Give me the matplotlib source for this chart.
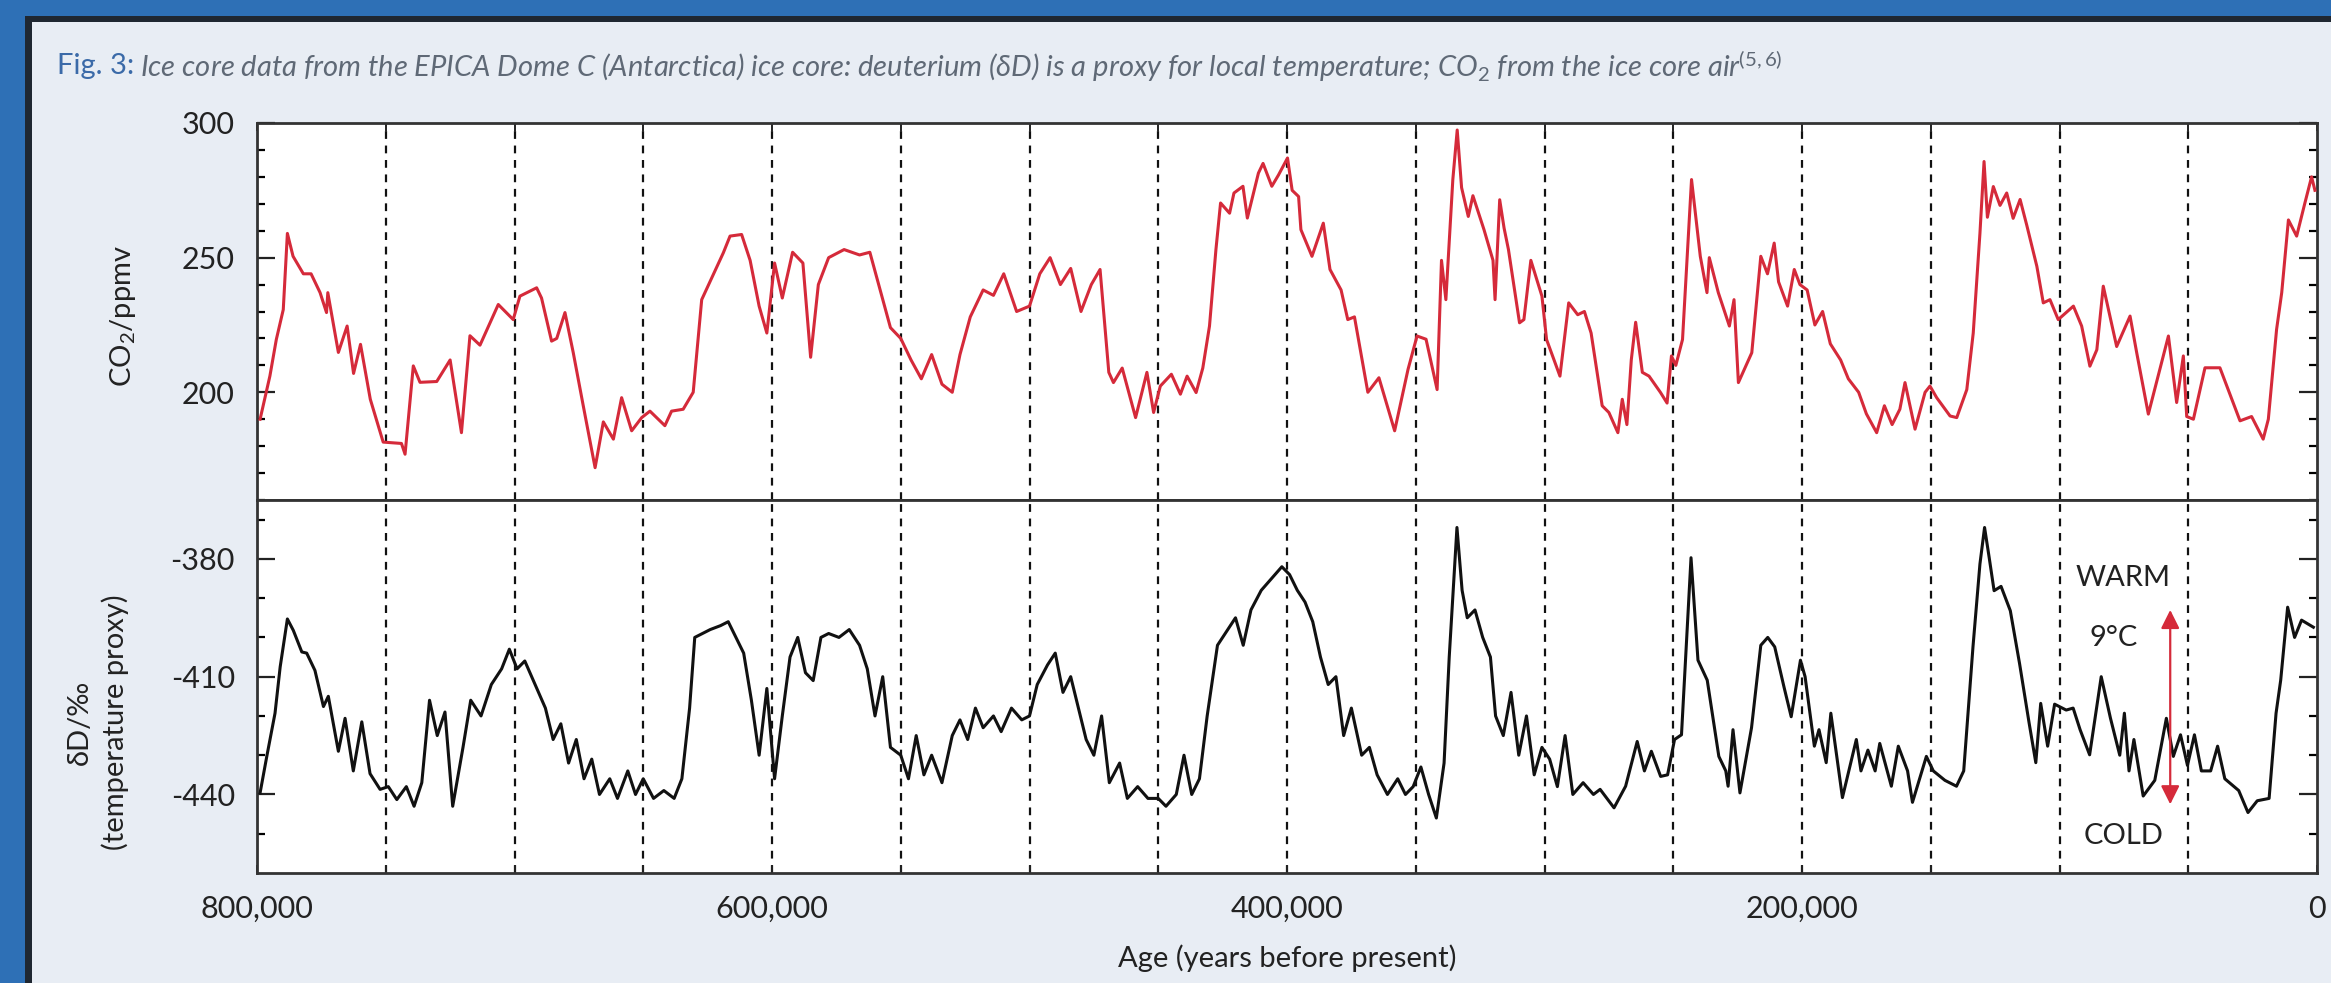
import matplotlib
matplotlib.use('Agg')
import numpy as np
import matplotlib.pyplot as plt
from matplotlib.patches import Rectangle

plt.rcParams['font.family'] = ['Lato', 'DejaVu Sans']
plt.rcParams['mathtext.fontset'] = 'custom'
plt.rcParams['mathtext.rm'] = 'Lato'
plt.rcParams['mathtext.it'] = 'Lato:italic'
plt.rcParams['axes.unicode_minus'] = False

# ---------------- data (ages in kyr before present) ----------------
co2_age = [798.8, 795, 792.5, 789.8, 788.2, 786, 782, 779, 775.5, 773, 772.5, 768.4, 765,
           762.5, 759.8, 756, 751, 743.9, 742.5, 739.3, 736.7, 730.2, 725, 720.6, 717.3,
           713.4, 706.3, 700.5, 697.9, 691.4, 689.5, 685.6, 683.6, 680.4, 677.2, 673.3,
           668.7, 665.5, 661.6, 658.4, 654.5, 650.6, 647.4, 641.6, 639, 634.5, 630.6,
           627.3, 618.9, 616.3, 611.8, 608.5, 605, 602, 599, 596, 592, 588, 585, 582,
           578, 572, 566, 562, 558, 554, 550, 546, 542, 538, 534, 530, 527, 523, 518,
           514, 510, 505, 500, 496, 492, 488, 484, 480, 476, 472.6, 469.2, 467.4, 464,
           458.8, 454.4, 451.8, 449.2, 444.9, 441.4, 438.8, 435.3, 432.7, 430.1, 427.6,
           425.8, 422.3, 420.6, 417.1, 415.4, 411.1, 409.3, 405.9, 403.3, 399.8, 398,
           395.5, 394.6, 390.3, 385.9, 383.3, 379, 376.4, 373.8, 368.6, 364.3, 358.2,
           353, 349.5, 346, 341.7, 340, 338.3, 335.6, 333.9, 332.2, 329.6, 327.8, 323.5,
           320, 319.2, 317.4, 315.7, 314, 309.7, 308, 305.3, 301, 299.2, 294, 290.6,
           287.1, 284.5, 281.9, 277.6, 275, 271.5, 269.8, 268, 266.3, 264.6, 262, 259.4,
           255, 252.4, 250.7, 249, 246.4, 242.9, 239.5, 236.9, 236, 232.5, 228.2, 226.4,
           224.7, 219.5, 216, 213.4, 210.8, 209.1, 205.6, 203, 200.8, 198, 195, 192, 189,
           185, 182, 178, 175, 171, 168, 165, 162, 160, 156.1, 152.2, 150.3, 147.7,
           142.5, 139.9, 136, 133.5, 130.9, 129.3, 128, 125.7, 123.1, 120.5, 118, 115.3,
           112.7, 108.8, 106.3, 103.7, 100.5, 94.6, 91.4, 88.2, 85.5, 83, 77.8, 72.6, 70,
           65.5, 57.7, 54.5, 51.9, 50.6, 48, 43.5, 37.7, 29.9, 25.4, 20.9, 18.9, 15.7,
           13.7, 11.1, 7.9, 4.7, 2.1, 0.8]
co2_ppmv = [190, 206, 219.6, 230.7, 259, 250.5, 244, 244, 237, 229.6, 237, 214.8, 224.6,
            207, 217.8, 197.4, 181.5, 181, 177, 209.8, 203.7, 204, 212, 185, 221,
            217.5, 232.6, 227, 235.7, 238.8, 235, 219, 220, 229.6, 214.8, 195,
            172, 189, 182.6, 198, 185.7, 190.6, 193, 187.6, 193, 193.7, 200,
            234.4, 251.8, 258, 258.6, 249, 232, 222, 248, 235, 252, 248, 213, 240,
            250, 253, 251, 252, 238, 224, 220, 212, 205, 214, 203, 200, 214, 228, 238,
            236, 244, 230, 232, 244, 250, 240, 246, 230, 240, 245.6, 207.4, 203.6, 209,
            190.6, 207.4, 192.5, 202.3, 206.7, 199.3, 206, 199.9, 209, 224.6, 253,
            270.3, 266.5, 274, 276.5, 264.7, 281.4, 285, 276.5, 280.7, 287, 275,
            272.7, 260.4, 250.5, 262.8, 245.6, 238, 227, 228, 200, 205.4, 185.7,
            208.5, 220.9, 219.7, 201, 249, 234.4, 279, 297.4, 276, 265.3, 273, 260.4,
            249, 234.4, 271.5, 261, 253, 225.8, 227, 249, 235.7, 219.6, 206, 233.2,
            228.8, 230, 222, 195, 192.5, 185, 197.4, 188, 212, 226, 207.4, 206,
            200, 196, 213.5, 210, 219.6, 279, 250.5, 237, 250, 237, 224.6, 234.4,
            203.6, 214.7, 250.5, 244, 255.4, 241, 232, 245.6, 240, 238, 225, 230, 218,
            212, 205, 200, 192, 185, 195, 188, 193.7, 203.6, 186.3, 200, 202.3, 198,
            191.2, 190.6, 201, 222, 259, 285.7, 265, 276.4, 269.4, 274, 264.6, 271.6,
            262, 246.8, 233.2, 234.4, 227, 232, 224.6, 209.7, 215.8, 239.4, 217, 228.3, 214.6,
            191.9, 220.9, 196.2, 213.5, 191, 190, 209.1, 209.1, 189.4, 191, 182.6, 190, 223.3,
            237, 264, 258, 270.3, 280, 275]

dd_age = [798.8, 796.2, 793, 791, 788.2, 785.9, 782.6, 780.7, 777.5, 774.2, 772.3, 768.4,
          765.8, 762.6, 759.3, 756.1, 752.2, 749, 745.7, 742, 739, 736, 733, 730, 727,
          724, 720, 717, 713, 709, 705, 702, 699, 696, 692, 688, 685, 682, 679, 676, 673,
          670, 667, 663, 660, 656, 653, 650, 646, 642, 638, 635, 632, 630, 627, 624, 620,
          617, 614, 611, 608, 605, 602, 599, 596, 593, 590, 587, 584, 581, 578, 574, 570,
          566, 563, 560, 557, 554, 550, 547, 544, 541, 538, 534, 530, 527, 524, 521, 518,
          514, 511, 507, 503, 500, 497, 493, 490, 487, 484, 481, 478, 475, 472, 469, 465,
          462, 458, 454, 450, 447, 443, 440, 437, 434, 431, 427, 423, 420, 417, 414, 410,
          406, 402, 399, 396, 393, 390, 387, 384, 381, 378, 375, 371, 368, 365, 361, 357,
          354, 351, 348, 345, 342, 339, 337, 334, 332, 330, 327, 324, 321, 319, 316, 313,
          310, 307, 304, 301, 298, 295, 292, 289, 285, 281, 278.4, 273, 268.5, 264, 261.2,
          258.5, 254.9, 252.2, 249.5, 246.8, 243.1, 240.4, 236.8, 232.3, 229.6, 228.7,
          226.8, 224.1, 219.6, 216, 213.3, 210.6, 207, 204.2, 200.6, 198.8, 195.2, 193.4,
          190.6, 188.8, 184.3, 178.9, 177.1, 174.4, 171.6, 169.8, 165.3, 162.6, 159,
          157.1, 151.7, 149, 144.5, 140, 137.2, 133.6, 130.9, 129.1, 127.3, 125.4, 122.7,
          119.1, 115.5, 111.8, 109.2, 107.3, 104.6, 101.9, 97.4, 94.7, 92, 88.3, 83.8,
          80.2, 76.6, 74.8, 73, 71.1, 67.5, 63, 58.5, 55.8, 53, 50.3, 47.6, 44.9, 41.3,
          38.6, 35.8, 30.4, 26.8, 23.2, 18.6, 15.9, 14.1, 11.4, 8.7, 6, 1.4]
dd_permil = [-439.6, -430.3, -419.3, -407.5, -395.3, -398.2, -403.7, -404, -408.4, -417.6,
             -415, -429, -420.6, -434, -421.5, -434.7, -438.7, -438, -441.3, -438, -443,
             -437, -416, -425, -419, -443, -428, -416, -420, -412, -408, -403, -408, -406,
             -412, -418, -426, -422, -432, -426, -436, -431, -440, -436, -441, -434, -440,
             -436, -441, -439, -441, -436, -418, -400, -399, -398, -397, -396, -400, -404,
             -416, -430, -413, -436, -420, -405, -400, -409, -411, -400, -399, -400, -398,
             -402, -408, -420, -410, -428, -430, -436, -425, -435, -430, -437, -425, -421,
             -426, -418, -423, -420, -424, -418, -421, -420, -412, -407, -404, -414, -410,
             -418, -426, -430, -420, -437, -432, -441, -438, -441, -441, -443, -440, -430,
             -440, -436, -420, -402, -398, -395, -402, -393, -388, -385, -382, -384, -388,
             -391, -396, -405, -412, -410, -425, -418, -430, -428, -435, -440, -436, -440,
             -438, -433, -440, -446, -432, -405, -372, -388, -395, -393, -400, -405, -420,
             -425, -414, -430, -420, -435, -428, -431, -438, -425, -440, -437, -440, -438.7,
             -443.4, -437.9, -426.5, -434, -429, -435.4, -435, -426, -424.8, -379.7, -405.8,
             -410.9, -430.3, -434, -437.9, -423.5, -439.6, -423, -402, -400, -402.4, -412.6,
             -420.2, -405.8, -410, -427.7, -423.5, -431.9, -419.3, -440.8, -426, -434,
             -428.7, -434, -427, -437.9, -427.7, -434, -442, -430.3, -434, -436.4, -437.9,
             -434, -402.4, -381.3, -372, -379.7, -388.1, -387, -393.2, -406.7, -421.8,
             -431.9, -416.8, -427.7, -417, -418.5, -418, -423.5, -429.9, -410, -420.6, -430,
             -419.3, -434, -426, -440.4, -436.4, -420.6, -430.3, -424.8, -432.6, -424.8,
             -434, -434, -427.7, -436, -439, -444.6, -441.6, -441, -419.3, -410.9, -392.3,
             -400, -395.6, -397.4]

x_ticks = list(range(0, 800001, 50000))
x_labels = ['0', '', '', '', '200,000', '', '', '', '400,000', '', '', '', '600,000',
            '', '', '', '800,000']
co2_ticks = [200, 250, 300]
dd_ticks = [-440, -410, -380]

W, H = 2331, 983
BLUE = '#2e70b6'
PANEL = '#e8edf4'
RED = '#d52a3a'


def px(x, y):
    return x / W, 1 - y / H


def style_axis(ax, yticks, yminor):
    for s in ax.spines.values():
        s.set_linewidth(2.0)
        s.set_color('#333333')
    ax.set_xlim(800000, 0)
    ax.set_xticks(x_ticks)
    ax.set_yticks(yticks)
    ax.set_yticks(yminor, minor=True)
    ax.tick_params(axis='y', which='major', direction='in', length=13, width=1.6,
                   left=True, right=True, labelsize=22, pad=16, colors='#222222')
    ax.tick_params(axis='y', which='minor', direction='in', length=6, width=1.6,
                   left=True, right=True)
    ax.tick_params(axis='x', which='major', direction='in', length=6, width=1.4,
                   top=True, bottom=True, labelsize=22, pad=16, colors='#222222')
    for a in x_ticks[1:-1]:
        ax.axvline(a, color='#111111', lw=1.6, ls=(0, (3.5, 3)), zorder=1)


def main():
    fig = plt.figure(figsize=(W / 100, H / 100), dpi=100)
    fig.patch.set_facecolor(BLUE)
    fig.add_artist(Rectangle((25 / W, 0), 1, 1 - 16 / H, transform=fig.transFigure,
                             facecolor='#1f2731', edgecolor='none', zorder=-5))
    fig.add_artist(Rectangle((32 / W, 0), 1, 1 - 22 / H, transform=fig.transFigure,
                             facecolor=PANEL, edgecolor='none', zorder=-4))

    x0, x1 = 257 / W, 2317 / W
    ax1 = fig.add_axes([x0, 1 - 500 / H, x1 - x0, (500 - 123) / H])
    ax2 = fig.add_axes([x0, 1 - 873 / H, x1 - x0, (873 - 500) / H])

    co2_years = np.array(co2_age) * 1000
    dd_years = np.array(dd_age) * 1000

    ax1.plot(co2_years, co2_ppmv, color=RED, lw=2.2, zorder=3)
    style_axis(ax1, co2_ticks, list(range(160, 301, 10)))
    ax1.set_ylim(160, 300)
    ax1.tick_params(axis='x', labelbottom=False, bottom=False)

    ax2.plot(dd_years, dd_permil, color='#111111', lw=2.2, zorder=3)
    style_axis(ax2, dd_ticks, list(range(-450, -365, 10)))
    ax2.set_ylim(-460, -365)
    ax2.tick_params(axis='x', top=False)
    ax2.set_xticklabels(x_labels)

    # warm / cold annotation
    ax2.annotate('', xy=(57000, -442.5), xytext=(57000, -393.0),
                 arrowprops=dict(arrowstyle='<|-|>', color=RED, lw=1.6,
                                 mutation_scale=28, shrinkA=0, shrinkB=0), zorder=4)
    ax2.text(75300, -384.8, 'WARM', ha='center', va='center', fontsize=21, color='#222222')
    ax2.text(79000, -400.2, '9°C', ha='center', va='center', fontsize=21, color='#222222')
    ax2.text(75300, -450.6, 'COLD', ha='center', va='center', fontsize=21, color='#222222')

    # axis labels
    fig.text(*px(123, 316), r'CO$_2$/ppmv', rotation=90, ha='center', va='center',
             fontsize=21, color='#222222')
    fig.text(*px(98, 722), 'δD/‰\n(temperature proxy)', rotation=90, ha='center',
             va='center', fontsize=21, color='#222222', linespacing=1.35)
    fig.text(*px(1287, 958), 'Age (years before present)', ha='center', va='center',
             fontsize=21, color='#222222')

    # title in two pieces
    renderer = fig.canvas.get_renderer()
    t1 = fig.text(*px(57, 66), 'Fig. 3:', ha='left', va='center', fontsize=21,
                  color='#3b6aa8')
    bb = t1.get_window_extent(renderer)
    fig.text((bb.x1 + 6) / W, 1 - 66 / H,
             r'Ice core data from the EPICA Dome C (Antarctica) ice core: deuterium (δD) '
             r'is a proxy for local temperature; CO$_2$ from the ice core air$^{(5,6)}$',
             ha='left', va='center', fontsize=21, style='italic', color='#5f6976')

    fig.savefig('out.png', dpi=100, facecolor=fig.get_facecolor())


if __name__ == '__main__':
    main()
